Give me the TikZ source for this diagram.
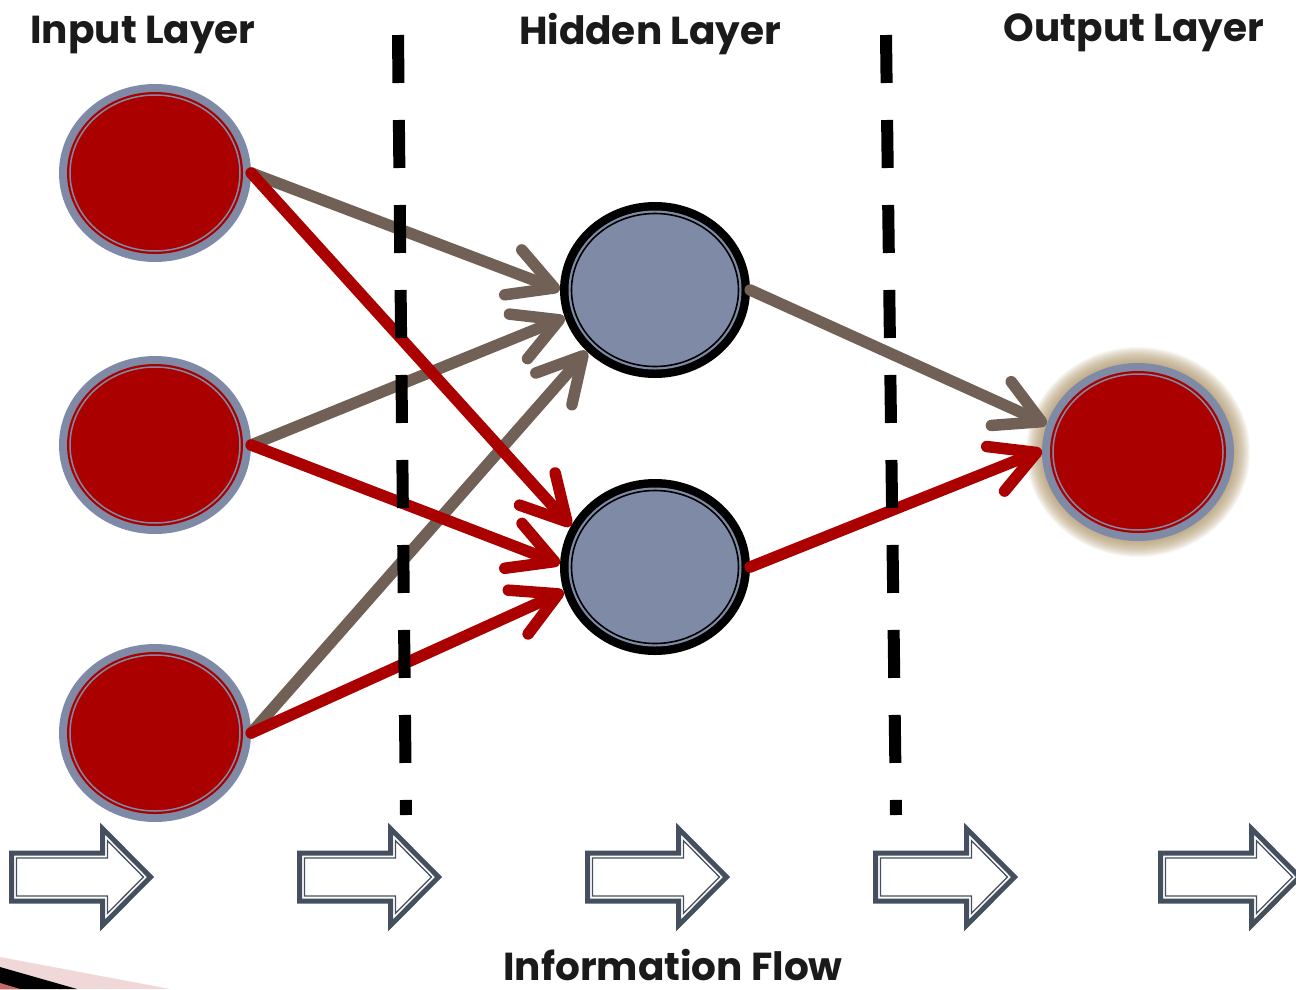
\documentclass[tikz,border=0pt]{standalone}
\usepackage{fontspec}
\setmainfont{Poppins}
\usetikzlibrary{arrows.meta,shapes.geometric}
\definecolor{nodered}{RGB}{170,0,0}
\definecolor{slate}{RGB}{127,139,166}
\definecolor{taupe}{RGB}{112,96,86}
\definecolor{flowgray}{RGB}{68,80,94}
\definecolor{glowtan}{RGB}{175,150,105}
\definecolor{bandpink}{RGB}{240,216,216}
\definecolor{textdark}{RGB}{26,26,26}
\tikzset{
  flowarrow/.pic={
    \draw[flowgray, line width=5pt, line join=miter]
      (2.5,-24) -- (93.5,-24) -- (93.5,-48.4) -- (141.5,0) -- (93.5,48.4) -- (93.5,24) -- (2.5,24) -- cycle;
    \draw[flowgray, line width=1.3pt, line join=miter]
      (7.5,-19) -- (98.5,-19) -- (98.5,-36.3) -- (134.4,0) -- (98.5,36.3) -- (98.5,19) -- (7.5,19) -- cycle;
  }
}
\begin{document}
\begin{tikzpicture}[x=1pt,y=-1pt,
  neuron/.style={ellipse, minimum width=192pt, minimum height=178pt, inner sep=0pt, fill=slate},
  hiddenneuron/.style={ellipse, minimum width=190pt, minimum height=176pt, inner sep=0pt, fill=black},
  link/.style={line width=11.5pt, line cap=round,
    -{Straight Barb[length=44pt,width=48pt,line width=11.5pt,round]}},
  graylink/.style={link, draw=taupe},
  redlink/.style={link, draw=nodered},
  divider/.style={line width=12pt, dash pattern=on 48pt off 37pt},
  title/.style={font=\bfseries\fontsize{39}{44}\selectfont, text=textdark, inner sep=0pt, anchor=base}
]
\useasboundingbox (0,0) rectangle (1296,989);
\fill[white] (0,0) rectangle (1296,989);

% corner band of the slide theme
\fill[bandpink] (0,957) -- (170,989) -- (0,989) -- cycle;
\fill[black] (0,967) -- (77,989) -- (0,989) -- cycle;
\fill[nodered!60] (0,983) -- (20,989) -- (0,989) -- cycle;

% headings
\node[title] (tin)  at (143,43) {Input Layer};
\node[title] (thid) at (650,44) {Hidden Layer};
\node[title] (tout) at (1134,41) {Output Layer};
\node[title] (tflow) at (673,980) {Information Flow};

% input neurons
\foreach \n/\y in {in1/173, in2/445, in3/733} {
  \node[neuron] (\n) at (155,\y) {};
  \fill[nodered] (\n.center) ellipse [x radius=88pt, y radius=81pt];
  \draw[slate, line width=1.5pt] (\n.center) ellipse [x radius=85pt, y radius=78pt];
}

% hidden neurons
\foreach \n/\y in {hid1/290, hid2/567} {
  \node[hiddenneuron] (\n) at (655,\y) {};
  \fill[slate] (\n.center) ellipse [x radius=86.5pt, y radius=79.5pt];
  \draw[black, line width=1.6pt] (\n.center) ellipse [x radius=83.5pt, y radius=76.5pt];
}

% output neuron with soft glow
\coordinate (oc) at (1138,452);
\foreach \r in {16,15,...,0}
  \fill[glowtan, opacity=0.075] (oc) ellipse [x radius={(96+\r)*1pt}, y radius={(89+\r)*1pt}];
\node[neuron] (out) at (oc) {};
\fill[nodered] (out.center) ellipse [x radius=88pt, y radius=81pt];
\draw[slate, line width=1.5pt] (out.center) ellipse [x radius=85pt, y radius=78pt];

% connections
\draw[graylink] (in1.east) -- (hid1.180);
\draw[graylink] (in2.east) -- (hid1.197);
\draw[graylink] (in3.east) -- (hid1.222);
\draw[graylink] (hid1.east) -- (out.163);

\draw[redlink] (in1.east) -- (hid2.154);
\draw[redlink] (in2.east) -- (hid2.178);
\draw[redlink] (in3.east) -- (hid2.195);
\draw[redlink] (hid2.east) -- (out.179);

% layer dividers
\coordinate (d1t) at (398,35);
\coordinate (d1b) at (406,815);
\coordinate (d2t) at (886,35);
\coordinate (d2b) at (896,815);
\draw[divider] (d1t) -- (d1b);
\draw[divider] (d2t) -- (d2b);

% flow arrows
\foreach \x in {9,297,585,873,1158}
  \pic at (\x,877) {flowarrow};
\end{tikzpicture}
\end{document}
